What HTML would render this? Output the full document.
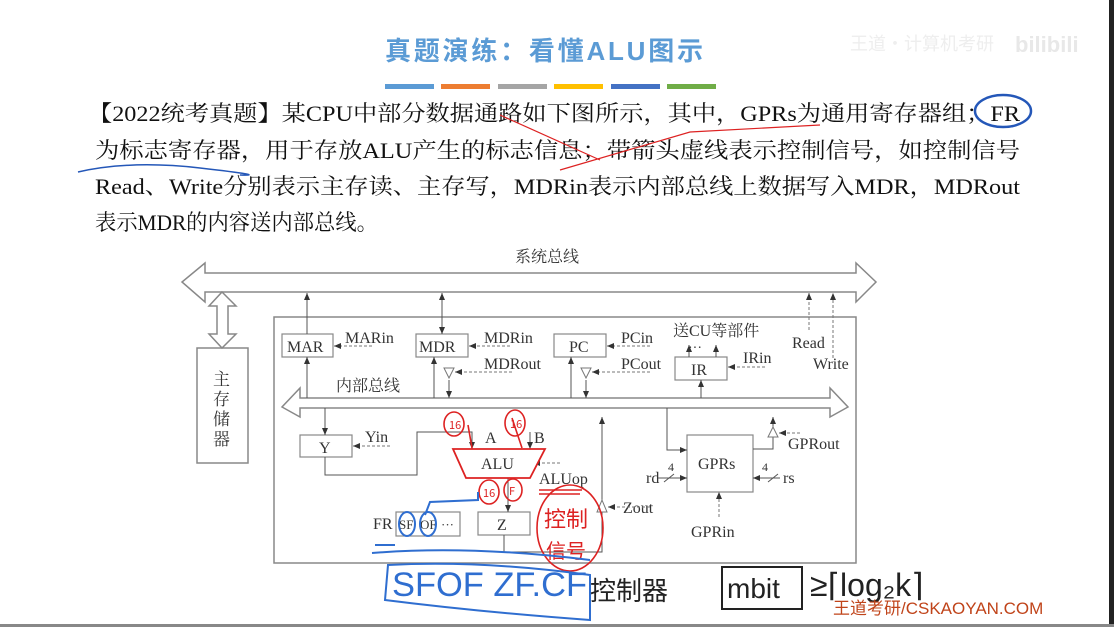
<!DOCTYPE html>
<html><head><meta charset="utf-8"><style>
html,body{margin:0;padding:0;background:#fff;width:1114px;height:627px;overflow:hidden}
svg{display:block}
.s{font-family:"Liberation Serif","Noto Serif CJK SC",serif;fill:#111}
.d{font-family:"Liberation Serif","Noto Serif CJK SC",serif;fill:#333;font-size:16px}
</style></head><body>
<svg width="1114" height="627" viewBox="0 0 1114 627" xmlns="http://www.w3.org/2000/svg">
<defs>
<marker id="a" markerWidth="8" markerHeight="8" refX="7" refY="4" orient="auto" markerUnits="userSpaceOnUse"><path d="M0,1 L7,4 L0,7 z" fill="#333"/></marker>
</defs>
<rect x="0" y="0" width="1114" height="627" fill="#fff"/>
<rect x="1109" y="0" width="5" height="627" fill="#222"/>
<rect x="0" y="624" width="1114" height="3" fill="#888"/>
<text x="385" y="60" font-family="'Liberation Sans','Noto Sans CJK SC',sans-serif" font-size="26" font-weight="bold" fill="#5b9bd5" textLength="318">真题演练：看懂ALU图示</text>
<rect x="385" y="84" width="49" height="5" fill="#5b9bd5"/>
<rect x="441" y="84" width="49" height="5" fill="#ed7d31"/>
<rect x="498" y="84" width="49" height="5" fill="#a5a5a5"/>
<rect x="554" y="84" width="49" height="5" fill="#ffc000"/>
<rect x="611" y="84" width="49" height="5" fill="#4472c4"/>
<rect x="667" y="84" width="49" height="5" fill="#70ad47"/>
<text x="850" y="50" font-family="'Noto Sans CJK SC',sans-serif" font-size="18" fill="#eee">王道·计算机考研</text>
<text x="1015" y="52" font-family="'Liberation Sans',sans-serif" font-size="22" font-weight="bold" fill="#e8e8e8">bilibili</text>
<text class="s" x="88" y="121" font-size="22" textLength="932" lengthAdjust="spacingAndGlyphs">【2022统考真题】某CPU中部分数据通路如下图所示，其中，GPRs为通用寄存器组；FR</text>
<text class="s" x="95" y="158" font-size="22" textLength="925" lengthAdjust="spacingAndGlyphs">为标志寄存器，用于存放ALU产生的标志信息；带箭头虚线表示控制信号，如控制信号</text>
<text class="s" x="95" y="194" font-size="22" textLength="925" lengthAdjust="spacingAndGlyphs">Read、Write分别表示主存读、主存写，MDRin表示内部总线上数据写入MDR，MDRout</text>
<text class="s" x="95" y="230" font-size="22" textLength="283" lengthAdjust="spacingAndGlyphs">表示MDR的内容送内部总线。</text>
<ellipse cx="1003" cy="111" rx="28" ry="16" fill="none" stroke="#2457b8" stroke-width="2.5"/>
<path d="M78,172 Q130,160 200,168 T240,175" fill="none" stroke="#2457b8" stroke-width="1.5"/>
<path d="M500,115 L600,160 M560,170 L690,132 L820,125" fill="none" stroke="#d22" stroke-width="1.2"/>
<g fill="none" stroke="#888" stroke-width="1.5">
<path d="M205,273 L856,273 L856,263 L876,282 L856,302 L856,292 L205,292 L205,302 L182,282 L205,263 Z"/>
<path d="M222,292 L236,306 L228,306 L228,334 L236,334 L222,348 L209,334 L217,334 L217,306 L209,306 Z"/>
<rect x="197" y="348" width="51" height="115"/>
<rect x="274" y="317" width="582" height="246"/>
<path d="M300,398 L830,398 L830,388 L848,407 L830,417 L830,408 L300,408 L300,417 L282,407 L300,388 Z"/>
</g>
<text class="d" x="515" y="262" font-size="15">系统总线</text>
<g font-family="'Noto Serif CJK SC',serif" font-size="17" fill="#333">
<text x="213" y="385">主</text><text x="213" y="405">存</text><text x="213" y="425">储</text><text x="213" y="445">器</text>
</g>
<text class="d" x="336" y="391">内部总线</text>
<g fill="#fff" stroke="#888" stroke-width="1.2">
<rect x="282" y="334" width="51" height="23"/>
<rect x="416" y="334" width="52" height="23"/>
<rect x="554" y="334" width="52" height="23"/>
<rect x="675" y="357" width="52" height="23"/>
<rect x="300" y="435" width="52" height="22"/>
<rect x="687" y="435" width="66" height="57"/>
<rect x="478" y="512" width="52" height="23"/>
<rect x="396" y="512" width="64" height="24"/>
</g>
<g class="d" font-size="18">
<text x="287" y="352">MAR</text><text x="419" y="352">MDR</text><text x="569" y="352">PC</text><text x="691" y="375">IR</text>
<text x="319" y="453">Y</text><text x="698" y="469">GPRs</text><text x="497" y="530">Z</text>
</g>
<g class="d">
<text x="345" y="343">MARin</text><text x="484" y="343">MDRin</text><text x="484" y="369">MDRout</text>
<text x="621" y="343">PCin</text><text x="621" y="369">PCout</text><text x="673" y="336">送CU等部件</text>
<text x="743" y="363">IRin</text><text x="792" y="348">Read</text><text x="813" y="369">Write</text>
<text x="365" y="442">Yin</text><text x="485" y="443">A</text><text x="534" y="443">B</text>
<text x="539" y="484">ALUop</text><text x="623" y="513">Zout</text><text x="788" y="449">GPRout</text>
<text x="646" y="483">rd</text><text x="783" y="483">rs</text><text x="691" y="537">GPRin</text>
<text x="373" y="529">FR</text><text x="399" y="529" font-size="13">SF</text><text x="420" y="529" font-size="13">OF</text><text x="441" y="529" font-size="13">···</text>
<text x="668" y="471" font-size="12">4</text><text x="762" y="471" font-size="12">4</text>
</g>
<g fill="none" stroke="#555" stroke-width="1" marker-end="url(#a)">
<path d="M307,398 L307,357"/><path d="M307,334 L307,293"/>
<path d="M442,320 L442,293"/><path d="M442,300 L442,334"/>
<path d="M434,398 L434,357"/><path d="M449,380 L449,398"/>
<path d="M571,398 L571,357"/><path d="M586,380 L586,398"/>
<path d="M701,398 L701,380"/><path d="M689,357 L689,345"/><path d="M716,357 L716,345"/>
<path d="M325,408 L325,435"/>
<path d="M325,457 L325,475 L417,475 L417,432 L472,432 L472,449"/>
<path d="M508,478 L508,512"/>
<path d="M504,535 L504,552 L602,552 L602,417"/>
<path d="M667,408 L667,450 L687,450"/>
<path d="M753,449 L773,449 L773,417"/>
<path d="M530,432 L530,449"/>
<path d="M658,478 L687,478"/><path d="M780,478 L753,478"/>
</g>
<path d="M664,482 L674,474 M768,482 L778,474" stroke="#555"/>
<g fill="#fff" stroke="#777"><path d="M444,368 L454,368 L449,378 Z"/><path d="M581,368 L591,368 L586,378 Z"/><path d="M768,437 L778,437 L773,427 Z"/><path d="M597,512 L607,512 L602,500 Z"/></g>
<g fill="none" stroke="#777" stroke-dasharray="3,2" marker-end="url(#a)">
<path d="M372,346 L334,346"/><path d="M510,346 L469,346"/><path d="M512,372 L455,372"/>
<path d="M650,346 L607,346"/><path d="M650,372 L592,372"/><path d="M765,367 L728,367"/>
<path d="M809,330 L809,293"/><path d="M833,358 L833,293"/>
<path d="M390,446 L353,446"/><path d="M560,463 L533,463"/>
<path d="M650,507 L608,507"/><path d="M800,433 L779,433"/><path d="M719,517 L719,492"/>
</g>
<text x="688" y="352" font-size="14" fill="#333">···</text>
<path d="M453,449 L545,449 L530,478 L466,478 Z" fill="#fff" stroke="#d22" stroke-width="1.8"/>
<text class="d" x="481" y="469" font-size="18">ALU</text>
<g fill="none" stroke="#d22" stroke-width="1.6">
<ellipse cx="454" cy="424" rx="10" ry="12"/><ellipse cx="515" cy="423" rx="10" ry="13"/>
<ellipse cx="489" cy="492" rx="10" ry="12"/><ellipse cx="513" cy="490" rx="9" ry="11"/>
<ellipse cx="570" cy="528" rx="33" ry="43"/>
<path d="M468,425 L472,448 M512,418 L522,448"/>
<path d="M539,490 L582,490 M539,494 L580,494"/>
</g>
<g font-family="'Noto Sans CJK SC',sans-serif" fill="#d22">
<text x="449" y="429" font-size="11">16</text><text x="510" y="428" font-size="11">16</text>
<text x="483" y="497" font-size="11">16</text><text x="509" y="495" font-size="11">F</text>
<text x="544" y="527" font-size="22">控制</text><text x="546" y="558" font-size="20">信号</text>
</g>
<g fill="none" stroke="#2f6ed0" stroke-width="2">
<path d="M478,492 L478,500 L430,502 L425,515"/>
<ellipse cx="407" cy="524" rx="8" ry="12"/><ellipse cx="428" cy="524" rx="8" ry="12"/>
<path d="M375,545 L395,545 M372,553 Q470,545 590,560"/>
<path d="M388,565 Q480,560 590,575 L590,620 Q480,612 385,600 Z"/>
</g>
<text x="392" y="596" font-family="'Liberation Sans',sans-serif" font-size="34" fill="#2f6ed0" textLength="195" lengthAdjust="spacingAndGlyphs">SFOF ZF.CF</text>
<text x="590" y="600" font-family="'Noto Sans CJK SC',sans-serif" font-size="26" fill="#222">控制器</text>
<rect x="722" y="567" width="80" height="42" fill="none" stroke="#222" stroke-width="2"/>
<text x="727" y="598" font-family="'Liberation Sans',sans-serif" font-size="28" fill="#222">mbit</text>
<text x="810" y="596" font-family="'Liberation Sans',sans-serif" font-size="32" fill="#222">≥⌈log₂k⌉</text>
<text x="833" y="614" font-family="'Liberation Sans','Noto Sans CJK SC',sans-serif" font-size="17" fill="#c0441a">王道考研/CSKAOYAN.COM</text>
</svg>
</body></html>
